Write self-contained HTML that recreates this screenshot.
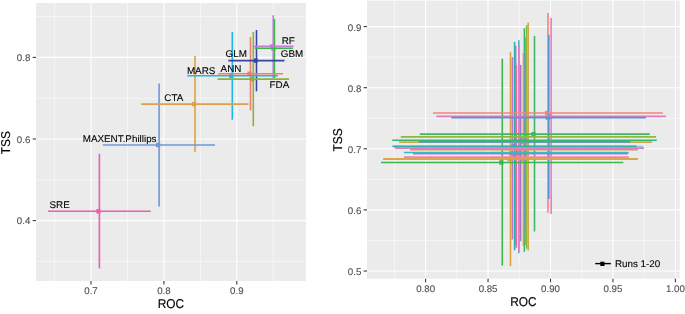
<!DOCTYPE html>
<html><head><meta charset="utf-8"><style>
html,body{margin:0;padding:0;background:#fff;width:685px;height:314px;overflow:hidden}
svg{display:block;will-change:transform}
text{font-family:"Liberation Sans",sans-serif;text-rendering:geometricPrecision}
</style></head><body>
<svg width="685" height="314" viewBox="0 0 685 314">
<rect x="0" y="0" width="685" height="314" fill="#FFFFFF"/>
<rect x="36.00" y="3.00" width="270.00" height="278.00" fill="#EBEBEB"/>
<line x1="54.55" y1="3.00" x2="54.55" y2="281.00" stroke="#FFFFFF" stroke-width="0.53"/>
<line x1="127.45" y1="3.00" x2="127.45" y2="281.00" stroke="#FFFFFF" stroke-width="0.53"/>
<line x1="200.35" y1="3.00" x2="200.35" y2="281.00" stroke="#FFFFFF" stroke-width="0.53"/>
<line x1="273.25" y1="3.00" x2="273.25" y2="281.00" stroke="#FFFFFF" stroke-width="0.53"/>
<line x1="36.00" y1="261.40" x2="306.00" y2="261.40" stroke="#FFFFFF" stroke-width="0.53"/>
<line x1="36.00" y1="179.80" x2="306.00" y2="179.80" stroke="#FFFFFF" stroke-width="0.53"/>
<line x1="36.00" y1="98.20" x2="306.00" y2="98.20" stroke="#FFFFFF" stroke-width="0.53"/>
<line x1="36.00" y1="16.60" x2="306.00" y2="16.60" stroke="#FFFFFF" stroke-width="0.53"/>
<line x1="91.00" y1="3.00" x2="91.00" y2="281.00" stroke="#FFFFFF" stroke-width="1.07"/>
<line x1="163.90" y1="3.00" x2="163.90" y2="281.00" stroke="#FFFFFF" stroke-width="1.07"/>
<line x1="236.80" y1="3.00" x2="236.80" y2="281.00" stroke="#FFFFFF" stroke-width="1.07"/>
<line x1="36.00" y1="220.60" x2="306.00" y2="220.60" stroke="#FFFFFF" stroke-width="1.07"/>
<line x1="36.00" y1="139.00" x2="306.00" y2="139.00" stroke="#FFFFFF" stroke-width="1.07"/>
<line x1="36.00" y1="57.40" x2="306.00" y2="57.40" stroke="#FFFFFF" stroke-width="1.07"/>
<rect x="96.30" y="209.10" width="4.20" height="4.40" fill="#EA5FAE"/>
<rect x="156.00" y="142.80" width="4.20" height="4.40" fill="#6F98DA"/>
<rect x="191.90" y="101.90" width="4.20" height="4.40" fill="#DBA24A"/>
<rect x="229.20" y="73.60" width="4.20" height="4.40" fill="#1EB7E3"/>
<rect x="247.40" y="71.60" width="4.20" height="4.40" fill="#F47B70"/>
<rect x="250.20" y="76.90" width="4.20" height="4.40" fill="#8DB03C"/>
<rect x="253.40" y="58.40" width="4.20" height="4.40" fill="#3545A8"/>
<rect x="271.30" y="46.10" width="4.20" height="4.40" fill="#3DB54C"/>
<rect x="270.10" y="44.20" width="4.20" height="4.40" fill="#C37CD6"/>
<line x1="99.40" y1="153.80" x2="99.40" y2="268.40" stroke="#EA5FAE" stroke-width="1.6"/>
<line x1="159.10" y1="83.60" x2="159.10" y2="206.40" stroke="#6F98DA" stroke-width="1.6"/>
<line x1="195.00" y1="56.10" x2="195.00" y2="152.00" stroke="#DBA24A" stroke-width="1.6"/>
<line x1="232.30" y1="31.90" x2="232.30" y2="119.70" stroke="#1EB7E3" stroke-width="1.6"/>
<line x1="250.50" y1="37.00" x2="250.50" y2="110.50" stroke="#F47B70" stroke-width="1.6"/>
<line x1="253.30" y1="31.90" x2="253.30" y2="126.20" stroke="#8DB03C" stroke-width="1.6"/>
<line x1="256.50" y1="30.00" x2="256.50" y2="91.30" stroke="#3545A8" stroke-width="1.6"/>
<line x1="274.40" y1="18.90" x2="274.40" y2="78.00" stroke="#3DB54C" stroke-width="1.6"/>
<line x1="273.20" y1="15.20" x2="273.20" y2="78.00" stroke="#C37CD6" stroke-width="1.6"/>
<line x1="48.10" y1="211.30" x2="150.70" y2="211.30" stroke="#EA5FAE" stroke-width="1.6"/>
<line x1="102.80" y1="145.00" x2="215.00" y2="145.00" stroke="#6F98DA" stroke-width="1.6"/>
<line x1="141.20" y1="104.10" x2="248.50" y2="104.10" stroke="#DBA24A" stroke-width="1.6"/>
<line x1="187.30" y1="75.80" x2="277.90" y2="75.80" stroke="#1EB7E3" stroke-width="1.6"/>
<line x1="218.00" y1="73.80" x2="283.00" y2="73.80" stroke="#F47B70" stroke-width="1.6"/>
<line x1="217.60" y1="79.10" x2="289.00" y2="79.10" stroke="#8DB03C" stroke-width="1.6"/>
<line x1="228.30" y1="60.60" x2="284.50" y2="60.60" stroke="#3545A8" stroke-width="1.6"/>
<line x1="254.80" y1="48.30" x2="292.90" y2="48.30" stroke="#3DB54C" stroke-width="1.6"/>
<line x1="253.30" y1="46.40" x2="293.60" y2="46.40" stroke="#C37CD6" stroke-width="1.6"/>
<text transform="translate(49.50 208.30) scale(1 0.98)" x="0" y="0" font-size="9.85" fill="#000000" stroke="#000000" stroke-width="0.1" text-anchor="start" >SRE</text>
<text transform="translate(82.70 141.90) scale(1 0.98)" x="0" y="0" font-size="9.85" fill="#000000" stroke="#000000" stroke-width="0.1" text-anchor="start" >MAXENT.Phillips</text>
<text transform="translate(164.30 100.80) scale(1 0.98)" x="0" y="0" font-size="9.85" fill="#000000" stroke="#000000" stroke-width="0.1" text-anchor="start" >CTA</text>
<text transform="translate(186.90 73.70) scale(1 0.98)" x="0" y="0" font-size="9.85" fill="#000000" stroke="#000000" stroke-width="0.1" text-anchor="start" >MARS</text>
<text transform="translate(220.60 71.80) scale(1 0.98)" x="0" y="0" font-size="9.85" fill="#000000" stroke="#000000" stroke-width="0.1" text-anchor="start" >ANN</text>
<text transform="translate(225.60 57.30) scale(1 0.98)" x="0" y="0" font-size="9.85" fill="#000000" stroke="#000000" stroke-width="0.1" text-anchor="start" >GLM</text>
<text transform="translate(269.60 88.10) scale(1 0.98)" x="0" y="0" font-size="9.85" fill="#000000" stroke="#000000" stroke-width="0.1" text-anchor="start" >FDA</text>
<text transform="translate(281.70 43.90) scale(1 0.98)" x="0" y="0" font-size="9.85" fill="#000000" stroke="#000000" stroke-width="0.1" text-anchor="start" >RF</text>
<text transform="translate(280.80 57.30) scale(1 0.98)" x="0" y="0" font-size="9.85" fill="#000000" stroke="#000000" stroke-width="0.1" text-anchor="start" >GBM</text>
<line x1="91.00" y1="281.00" x2="91.00" y2="284.50" stroke="#333333" stroke-width="1.07"/>
<text transform="translate(91.00 294.10) scale(1 1.0)" x="0" y="0" font-size="9.7" fill="#4D4D4D" stroke="#4D4D4D" stroke-width="0.1" text-anchor="middle" >0.7</text>
<line x1="163.90" y1="281.00" x2="163.90" y2="284.50" stroke="#333333" stroke-width="1.07"/>
<text transform="translate(163.90 294.10) scale(1 1.0)" x="0" y="0" font-size="9.7" fill="#4D4D4D" stroke="#4D4D4D" stroke-width="0.1" text-anchor="middle" >0.8</text>
<line x1="236.80" y1="281.00" x2="236.80" y2="284.50" stroke="#333333" stroke-width="1.07"/>
<text transform="translate(236.80 294.10) scale(1 1.0)" x="0" y="0" font-size="9.7" fill="#4D4D4D" stroke="#4D4D4D" stroke-width="0.1" text-anchor="middle" >0.9</text>
<line x1="32.70" y1="220.60" x2="36.00" y2="220.60" stroke="#333333" stroke-width="1.07"/>
<text transform="translate(30.30 224.30) scale(1 1.0)" x="0" y="0" font-size="9.7" fill="#4D4D4D" stroke="#4D4D4D" stroke-width="0.1" text-anchor="end" >0.4</text>
<line x1="32.70" y1="139.00" x2="36.00" y2="139.00" stroke="#333333" stroke-width="1.07"/>
<text transform="translate(30.30 142.70) scale(1 1.0)" x="0" y="0" font-size="9.7" fill="#4D4D4D" stroke="#4D4D4D" stroke-width="0.1" text-anchor="end" >0.6</text>
<line x1="32.70" y1="57.40" x2="36.00" y2="57.40" stroke="#333333" stroke-width="1.07"/>
<text transform="translate(30.30 61.10) scale(1 1.0)" x="0" y="0" font-size="9.7" fill="#4D4D4D" stroke="#4D4D4D" stroke-width="0.1" text-anchor="end" >0.8</text>
<text transform="translate(171.00 308.00) scale(1 1.07)" x="0" y="0" font-size="11.9" fill="#000000" stroke="#000000" stroke-width="0.15" text-anchor="middle" >ROC</text>
<text transform="translate(10.30 142.60) rotate(-90) scale(1 1.07)" x="0" y="0" font-size="11.9" fill="#000000" stroke="#000000" stroke-width="0.15" text-anchor="middle" >TSS</text>
<rect x="367.00" y="0.60" width="312.70" height="278.10" fill="#EBEBEB"/>
<line x1="394.38" y1="0.60" x2="394.38" y2="278.70" stroke="#FFFFFF" stroke-width="0.53"/>
<line x1="456.82" y1="0.60" x2="456.82" y2="278.70" stroke="#FFFFFF" stroke-width="0.53"/>
<line x1="519.27" y1="0.60" x2="519.27" y2="278.70" stroke="#FFFFFF" stroke-width="0.53"/>
<line x1="581.73" y1="0.60" x2="581.73" y2="278.70" stroke="#FFFFFF" stroke-width="0.53"/>
<line x1="644.17" y1="0.60" x2="644.17" y2="278.70" stroke="#FFFFFF" stroke-width="0.53"/>
<line x1="367.00" y1="240.45" x2="679.70" y2="240.45" stroke="#FFFFFF" stroke-width="0.53"/>
<line x1="367.00" y1="179.35" x2="679.70" y2="179.35" stroke="#FFFFFF" stroke-width="0.53"/>
<line x1="367.00" y1="118.25" x2="679.70" y2="118.25" stroke="#FFFFFF" stroke-width="0.53"/>
<line x1="367.00" y1="57.15" x2="679.70" y2="57.15" stroke="#FFFFFF" stroke-width="0.53"/>
<line x1="425.60" y1="0.60" x2="425.60" y2="278.70" stroke="#FFFFFF" stroke-width="1.07"/>
<line x1="488.05" y1="0.60" x2="488.05" y2="278.70" stroke="#FFFFFF" stroke-width="1.07"/>
<line x1="550.50" y1="0.60" x2="550.50" y2="278.70" stroke="#FFFFFF" stroke-width="1.07"/>
<line x1="612.95" y1="0.60" x2="612.95" y2="278.70" stroke="#FFFFFF" stroke-width="1.07"/>
<line x1="675.40" y1="0.60" x2="675.40" y2="278.70" stroke="#FFFFFF" stroke-width="1.07"/>
<line x1="367.00" y1="271.00" x2="679.70" y2="271.00" stroke="#FFFFFF" stroke-width="1.07"/>
<line x1="367.00" y1="209.90" x2="679.70" y2="209.90" stroke="#FFFFFF" stroke-width="1.07"/>
<line x1="367.00" y1="148.80" x2="679.70" y2="148.80" stroke="#FFFFFF" stroke-width="1.07"/>
<line x1="367.00" y1="87.70" x2="679.70" y2="87.70" stroke="#FFFFFF" stroke-width="1.07"/>
<line x1="367.00" y1="26.60" x2="679.70" y2="26.60" stroke="#FFFFFF" stroke-width="1.07"/>
<rect x="544.90" y="110.80" width="4.20" height="4.40" fill="#F2867A"/>
<rect x="548.00" y="114.20" width="4.20" height="4.40" fill="#E27BC0"/>
<rect x="545.70" y="115.40" width="4.20" height="4.40" fill="#5096D2"/>
<rect x="531.40" y="131.90" width="4.20" height="4.40" fill="#3CB964"/>
<rect x="499.20" y="160.25" width="4.20" height="4.40" fill="#3DB54C"/>
<rect x="507.40" y="156.80" width="4.20" height="4.40" fill="#DDA040"/>
<rect x="522.50" y="147.50" width="4.20" height="4.40" fill="#DDA040"/>
<rect x="523.60" y="134.70" width="4.20" height="4.40" fill="#93B53A"/>
<rect x="512.70" y="144.40" width="4.20" height="4.40" fill="#9A9BDA"/>
<rect x="511.50" y="144.20" width="4.20" height="4.40" fill="#2AAFAA"/>
<rect x="521.30" y="138.00" width="4.20" height="4.40" fill="#34B870"/>
<rect x="525.10" y="139.90" width="4.20" height="4.40" fill="#CDAA46"/>
<rect x="521.50" y="139.70" width="4.20" height="4.40" fill="#5096D2"/>
<rect x="509.30" y="151.30" width="4.20" height="4.40" fill="#BC78C8"/>
<rect x="517.50" y="151.30" width="4.20" height="4.40" fill="#A872C8"/>
<rect x="515.75" y="150.35" width="4.20" height="4.40" fill="#30BCCB"/>
<rect x="515.70" y="145.90" width="4.20" height="4.40" fill="#E27BC0"/>
<rect x="520.30" y="156.80" width="4.20" height="4.40" fill="#D3A05C"/>
<rect x="513.20" y="154.90" width="4.20" height="4.40" fill="#DC6E9E"/>
<line x1="548.00" y1="13.10" x2="548.00" y2="212.70" stroke="#F2867A" stroke-width="1.6"/>
<line x1="551.10" y1="18.10" x2="551.10" y2="214.00" stroke="#E27BC0" stroke-width="1.6"/>
<line x1="548.80" y1="34.80" x2="548.80" y2="199.00" stroke="#5096D2" stroke-width="1.6"/>
<line x1="534.50" y1="36.00" x2="534.50" y2="231.50" stroke="#3CB964" stroke-width="1.6"/>
<line x1="502.30" y1="58.70" x2="502.30" y2="265.60" stroke="#3DB54C" stroke-width="1.6"/>
<line x1="510.50" y1="51.80" x2="510.50" y2="266.20" stroke="#DDA040" stroke-width="1.6"/>
<line x1="525.60" y1="37.20" x2="525.60" y2="245.00" stroke="#DDA040" stroke-width="1.6"/>
<line x1="526.70" y1="25.00" x2="526.70" y2="248.70" stroke="#93B53A" stroke-width="1.6"/>
<line x1="515.80" y1="46.00" x2="515.80" y2="245.00" stroke="#9A9BDA" stroke-width="1.6"/>
<line x1="514.60" y1="41.90" x2="514.60" y2="250.30" stroke="#2AAFAA" stroke-width="1.6"/>
<line x1="524.40" y1="28.20" x2="524.40" y2="251.80" stroke="#34B870" stroke-width="1.6"/>
<line x1="528.20" y1="22.60" x2="528.20" y2="250.60" stroke="#CDAA46" stroke-width="1.6"/>
<line x1="524.60" y1="53.00" x2="524.60" y2="229.60" stroke="#5096D2" stroke-width="1.6"/>
<line x1="512.40" y1="57.10" x2="512.40" y2="239.50" stroke="#BC78C8" stroke-width="1.6"/>
<line x1="520.60" y1="64.80" x2="520.60" y2="241.20" stroke="#A872C8" stroke-width="1.6"/>
<line x1="518.85" y1="40.30" x2="518.85" y2="253.30" stroke="#30BCCB" stroke-width="1.6"/>
<line x1="518.80" y1="45.30" x2="518.80" y2="251.10" stroke="#E27BC0" stroke-width="1.6"/>
<line x1="523.40" y1="53.00" x2="523.40" y2="246.10" stroke="#D3A05C" stroke-width="1.6"/>
<line x1="516.30" y1="65.30" x2="516.30" y2="247.80" stroke="#DC6E9E" stroke-width="1.6"/>
<line x1="433.00" y1="113.00" x2="662.80" y2="113.00" stroke="#F2867A" stroke-width="1.6"/>
<line x1="436.40" y1="116.40" x2="665.90" y2="116.40" stroke="#E27BC0" stroke-width="1.6"/>
<line x1="451.30" y1="117.60" x2="646.00" y2="117.60" stroke="#5096D2" stroke-width="1.6"/>
<line x1="419.80" y1="134.10" x2="649.80" y2="134.10" stroke="#3CB964" stroke-width="1.6"/>
<line x1="381.00" y1="162.45" x2="623.30" y2="162.45" stroke="#3DB54C" stroke-width="1.6"/>
<line x1="383.20" y1="159.00" x2="638.00" y2="159.00" stroke="#DDA040" stroke-width="1.6"/>
<line x1="410.10" y1="149.70" x2="638.00" y2="149.70" stroke="#EA9149" stroke-width="1.6"/>
<line x1="400.80" y1="136.90" x2="656.10" y2="136.90" stroke="#93B53A" stroke-width="1.6"/>
<line x1="395.00" y1="146.60" x2="643.00" y2="146.60" stroke="#8CCDE6" stroke-width="1.6"/>
<line x1="392.50" y1="146.40" x2="636.70" y2="146.40" stroke="#2AAFAA" stroke-width="1.6"/>
<line x1="392.20" y1="140.20" x2="656.80" y2="140.20" stroke="#34B870" stroke-width="1.6"/>
<line x1="399.10" y1="142.10" x2="652.00" y2="142.10" stroke="#CDAA46" stroke-width="1.6"/>
<line x1="418.70" y1="141.90" x2="630.30" y2="141.90" stroke="#5096D2" stroke-width="1.6"/>
<line x1="413.00" y1="153.50" x2="627.80" y2="153.50" stroke="#BC78C8" stroke-width="1.6"/>
<line x1="413.00" y1="153.50" x2="627.80" y2="153.50" stroke="#A872C8" stroke-width="1.6"/>
<line x1="403.90" y1="152.55" x2="628.80" y2="152.55" stroke="#30BCCB" stroke-width="1.6"/>
<line x1="394.80" y1="148.10" x2="644.10" y2="148.10" stroke="#E27BC0" stroke-width="1.6"/>
<line x1="383.20" y1="159.00" x2="638.00" y2="159.00" stroke="#DDA040" stroke-width="1.6"/>
<line x1="404.10" y1="157.10" x2="628.80" y2="157.10" stroke="#F082B4" stroke-width="1.6"/>
<line x1="595.20" y1="263.60" x2="610.80" y2="263.60" stroke="#000000" stroke-width="1.4"/>
<rect x="600.30" y="261.70" width="4.20" height="4.30" fill="#000000"/>
<text transform="translate(614.90 267.00) scale(1 0.98)" x="0" y="0" font-size="9.85" fill="#000000" stroke="#000000" stroke-width="0.1" text-anchor="start" >Runs 1-20</text>
<line x1="425.60" y1="278.70" x2="425.60" y2="282.20" stroke="#333333" stroke-width="1.07"/>
<text transform="translate(425.60 292.10) scale(1 1.0)" x="0" y="0" font-size="9.7" fill="#4D4D4D" stroke="#4D4D4D" stroke-width="0.1" text-anchor="middle" >0.80</text>
<line x1="488.05" y1="278.70" x2="488.05" y2="282.20" stroke="#333333" stroke-width="1.07"/>
<text transform="translate(488.05 292.10) scale(1 1.0)" x="0" y="0" font-size="9.7" fill="#4D4D4D" stroke="#4D4D4D" stroke-width="0.1" text-anchor="middle" >0.85</text>
<line x1="550.50" y1="278.70" x2="550.50" y2="282.20" stroke="#333333" stroke-width="1.07"/>
<text transform="translate(550.50 292.10) scale(1 1.0)" x="0" y="0" font-size="9.7" fill="#4D4D4D" stroke="#4D4D4D" stroke-width="0.1" text-anchor="middle" >0.90</text>
<line x1="612.95" y1="278.70" x2="612.95" y2="282.20" stroke="#333333" stroke-width="1.07"/>
<text transform="translate(612.95 292.10) scale(1 1.0)" x="0" y="0" font-size="9.7" fill="#4D4D4D" stroke="#4D4D4D" stroke-width="0.1" text-anchor="middle" >0.95</text>
<line x1="675.40" y1="278.70" x2="675.40" y2="282.20" stroke="#333333" stroke-width="1.07"/>
<text transform="translate(675.40 292.10) scale(1 1.0)" x="0" y="0" font-size="9.7" fill="#4D4D4D" stroke="#4D4D4D" stroke-width="0.1" text-anchor="middle" >1.00</text>
<line x1="363.60" y1="271.00" x2="367.00" y2="271.00" stroke="#333333" stroke-width="1.07"/>
<text transform="translate(361.30 275.00) scale(1 1.0)" x="0" y="0" font-size="9.7" fill="#4D4D4D" stroke="#4D4D4D" stroke-width="0.1" text-anchor="end" >0.5</text>
<line x1="363.60" y1="209.90" x2="367.00" y2="209.90" stroke="#333333" stroke-width="1.07"/>
<text transform="translate(361.30 213.90) scale(1 1.0)" x="0" y="0" font-size="9.7" fill="#4D4D4D" stroke="#4D4D4D" stroke-width="0.1" text-anchor="end" >0.6</text>
<line x1="363.60" y1="148.80" x2="367.00" y2="148.80" stroke="#333333" stroke-width="1.07"/>
<text transform="translate(361.30 152.80) scale(1 1.0)" x="0" y="0" font-size="9.7" fill="#4D4D4D" stroke="#4D4D4D" stroke-width="0.1" text-anchor="end" >0.7</text>
<line x1="363.60" y1="87.70" x2="367.00" y2="87.70" stroke="#333333" stroke-width="1.07"/>
<text transform="translate(361.30 91.70) scale(1 1.0)" x="0" y="0" font-size="9.7" fill="#4D4D4D" stroke="#4D4D4D" stroke-width="0.1" text-anchor="end" >0.8</text>
<line x1="363.60" y1="26.60" x2="367.00" y2="26.60" stroke="#333333" stroke-width="1.07"/>
<text transform="translate(361.30 30.60) scale(1 1.0)" x="0" y="0" font-size="9.7" fill="#4D4D4D" stroke="#4D4D4D" stroke-width="0.1" text-anchor="end" >0.9</text>
<text transform="translate(523.50 306.00) scale(1 1.07)" x="0" y="0" font-size="11.9" fill="#000000" stroke="#000000" stroke-width="0.15" text-anchor="middle" >ROC</text>
<text transform="translate(341.80 139.90) rotate(-90) scale(1 1.07)" x="0" y="0" font-size="11.9" fill="#000000" stroke="#000000" stroke-width="0.15" text-anchor="middle" >TSS</text>
</svg>
</body></html>
